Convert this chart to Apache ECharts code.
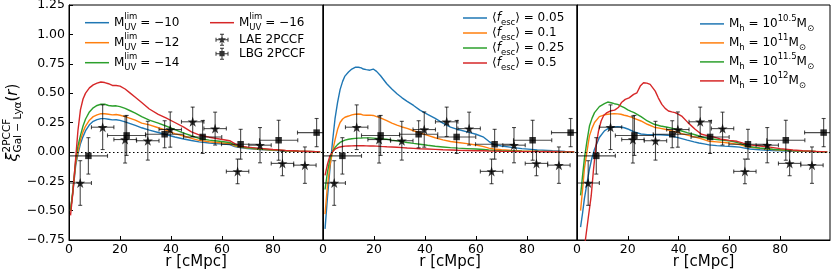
<!DOCTYPE html>
<html><head><meta charset="utf-8">
<script src="https://cdn.jsdelivr.net/npm/echarts@6/dist/echarts.min.js"></script>
<style>html,body{margin:0;padding:0;background:#fff}#c{width:831px;height:276px}</style>
</head><body><div id="c"></div><script>
// ---------------- data ----------------
const r1 = [0.6, 1.5, 2.6, 3.5, 4.5, 5.5, 6.5, 8, 9.5, 11, 12.5, 14, 15.5, 17, 18.5, 20, 22, 24, 26, 28.5, 31.5, 35, 38, 41.5, 45, 48, 51, 55, 59, 63, 65, 67, 70, 75, 80, 85, 90, 95, 98.5];
const muv10 = [-0.5,-0.35,-0.12,-0.02,0.07,0.13,0.18,0.23,0.26,0.275,0.283,0.283,0.278,0.272,0.273,0.268,0.255,0.24,0.225,0.205,0.185,0.165,0.148,0.127,0.11,0.097,0.085,0.076,0.069,0.062,0.046,0.036,0.029,0.02,0.013,0.008,0.004,0.002,0];
const muv12 = [-0.5,-0.34,-0.1,0,0.1,0.17,0.22,0.27,0.3,0.315,0.325,0.325,0.32,0.315,0.318,0.312,0.3,0.285,0.27,0.245,0.23,0.205,0.185,0.155,0.135,0.115,0.098,0.086,0.078,0.07,0.052,0.04,0.032,0.022,0.015,0.009,0.005,0.002,0];
const muv14 = [-0.5,-0.33,-0.08,0.05,0.14,0.22,0.28,0.34,0.375,0.395,0.405,0.405,0.395,0.39,0.392,0.385,0.37,0.35,0.33,0.3,0.27,0.245,0.22,0.19,0.16,0.137,0.115,0.1,0.09,0.08,0.06,0.045,0.035,0.025,0.017,0.01,0.006,0.003,0];
const muv16 = [-0.54,-0.35,-0.06,0.18,0.36,0.45,0.5,0.545,0.57,0.585,0.595,0.59,0.58,0.565,0.565,0.56,0.535,0.5,0.465,0.42,0.365,0.32,0.29,0.25,0.21,0.17,0.145,0.125,0.11,0.095,0.07,0.05,0.04,0.03,0.02,0.012,0.007,0.003,0];

const r2 = [0.8, 1.7, 2.7, 3.7, 4.7, 5.7, 6.7, 7.7, 8.6, 10, 11.3, 12.6, 13.9, 15, 15.8, 17, 18.4, 19.7, 21, 22.5, 25, 27, 29, 31, 33, 35.5, 38, 41, 44, 47, 50, 53, 56.5, 60, 63, 65, 67, 70, 74, 78, 84, 90, 95, 98.5];
const fesc005 = [-0.655,-0.4,-0.15,0.08,0.28,0.42,0.53,0.6,0.645,0.68,0.705,0.72,0.72,0.715,0.705,0.7,0.695,0.705,0.685,0.65,0.58,0.535,0.495,0.46,0.43,0.395,0.355,0.32,0.285,0.245,0.21,0.19,0.17,0.15,0.125,0.09,0.062,0.05,0.038,0.028,0.017,0.009,0.004,0.001];
const fesc01 = [-0.53,-0.3,-0.12,0,0.1,0.19,0.25,0.28,0.295,0.305,0.315,0.32,0.322,0.32,0.313,0.312,0.313,0.31,0.3,0.29,0.265,0.245,0.228,0.212,0.2,0.18,0.162,0.14,0.12,0.102,0.088,0.08,0.07,0.058,0.045,0.032,0.024,0.018,0.012,0.008,0.005,0.003,0.001,0];
const fesc025 = [-0.32,-0.18,-0.06,0,0.037,0.062,0.08,0.092,0.1,0.107,0.112,0.115,0.117,0.118,0.119,0.119,0.119,0.117,0.115,0.112,0.107,0.1,0.094,0.087,0.08,0.072,0.065,0.056,0.048,0.042,0.036,0.032,0.028,0.024,0.02,0.016,0.013,0.01,0.008,0.006,0.004,0.002,0.001,0];
const fesc05 = [-0.2,-0.11,-0.034,0,0.023,0.035,0.042,0.046,0.049,0.05,0.051,0.052,0.052,0.052,0.052,0.051,0.05,0.05,0.049,0.047,0.044,0.042,0.039,0.036,0.033,0.03,0.027,0.024,0.021,0.018,0.016,0.014,0.012,0.01,0.009,0.007,0.006,0.005,0.004,0.003,0.002,0.001,0,0];

const r3 = [1.4, 2.2, 2.9, 3.9, 4.9, 5.9, 6.9, 8.8, 10.8, 12.1, 13.4, 14.7, 16, 17.3, 18.6, 20, 21.3, 22.5, 25.2, 27.7, 30.4, 32.9, 35.6, 38.1, 40.9, 43.4, 46.1, 48, 50, 52, 55, 58, 61, 64, 66, 68, 72, 77, 83, 89, 94, 98.5];
const mh105 = [-0.64,-0.52,-0.4,-0.27,-0.147,-0.05,0.023,0.122,0.179,0.197,0.206,0.212,0.215,0.212,0.205,0.195,0.182,0.17,0.152,0.147,0.146,0.146,0.142,0.13,0.115,0.1,0.085,0.076,0.068,0.06,0.053,0.049,0.046,0.04,0.032,0.025,0.018,0.012,0.008,0.004,0.002,0];
const mh11 = [-0.5,-0.32,-0.147,0,0.136,0.2,0.25,0.3,0.315,0.32,0.323,0.325,0.323,0.32,0.312,0.305,0.295,0.285,0.263,0.235,0.21,0.2,0.188,0.175,0.158,0.143,0.128,0.117,0.105,0.09,0.085,0.08,0.072,0.062,0.05,0.04,0.03,0.02,0.012,0.006,0.003,0];
const mh115 = [-0.37,-0.2,-0.06,0.09,0.22,0.285,0.334,0.385,0.41,0.424,0.418,0.41,0.404,0.39,0.376,0.358,0.345,0.334,0.3,0.263,0.235,0.22,0.21,0.198,0.18,0.164,0.148,0.135,0.122,0.113,0.105,0.098,0.09,0.075,0.058,0.045,0.033,0.022,0.013,0.007,0.003,0];
const r3red = [1.5, 2.5, 3.3, 4.5, 5.6, 6.5, 7.5, 8.5, 9.5, 10.5, 11.8, 13.4, 14.8, 16.4, 17.5, 19, 20.5, 22.3, 23.6, 24.9, 26.2, 27.5, 28.8, 30.8, 32, 33.4, 34.7, 36, 37.3, 38.6, 40, 41.2, 43.7, 46.5, 49, 51.7, 54, 56.3, 60, 63, 65.4, 68, 72, 75.9, 80, 85, 88.9, 94, 98.5];
const mh12 = [-1.3,-0.95,-0.75,-0.55,-0.373,-0.15,0.054,0.18,0.263,0.31,0.334,0.35,0.355,0.38,0.42,0.447,0.46,0.489,0.503,0.56,0.588,0.585,0.574,0.517,0.46,0.404,0.37,0.348,0.34,0.334,0.32,0.305,0.249,0.192,0.15,0.136,0.125,0.11,0.098,0.09,0.075,0.06,0.05,0.04,0.028,0.016,0.009,0.004,0];

// observations (same in every panel)
const laeR    = [4.4, 13.2, 22.0, 30.9, 39.7, 48.5, 57.3, 66.1, 74.9, 83.7, 92.5];
const laeXi   = [-0.265, 0.21, 0.105, 0.095, 0.19, 0.256, 0.198, -0.166, 0.057, -0.098, -0.113];
const laeXiErr= [0.19, 0.19, 0.2, 0.165, 0.15, 0.125, 0.14, 0.105, 0.15, 0.105, 0.155];
const laeRErr = [4.4, 4.4, 4.4, 4.4, 4.4, 4.4, 4.4, 4.4, 4.4, 4.4, 4.4];
const lbgR    = [7.6, 22.6, 37.5, 52.4, 67.3, 82.2, 97.1];
const lbgXi   = [-0.034, 0.14, 0.15, 0.127, 0.065, 0.099, 0.164];
const lbgXiErr= [0.155, 0.17, 0.115, 0.14, 0.127, 0.17, 0.12];
const lbgRErr = [7.5, 7.5, 7.5, 7.5, 7.5, 7.5, 7.5];

const xTicks = [0, 20, 40, 60, 80];
const yTicks = [-0.75, -0.5, -0.25, 0, 0.25, 0.5, 0.75, 1.0, 1.25];

const names1 = ['muv10','muv12','muv14','muv16'];
const names2 = ['fesc005','fesc01','fesc025','fesc05'];
const names3 = ['mh105','mh11','mh115','mh12'];
const LABEL = {
  muv10: '{t|M}{s0|lim}{sb|UV}{t| = −10}',
  muv12: '{t|M}{s0|lim}{sb|UV}{t| = −12}',
  muv14: '{t|M}{s0|lim}{sb|UV}{t| = −14}',
  muv16: '{t|M}{s0|lim}{sb|UV}{t| = −16}',
  fesc005: '{t2|⟨}{it2|f}{sb2|esc}{t2|⟩ = 0.05}',
  fesc01: '{t2|⟨}{it2|f}{sb2|esc}{t2|⟩ = 0.1}',
  fesc025: '{t2|⟨}{it2|f}{sb2|esc}{t2|⟩ = 0.25}',
  fesc05: '{t2|⟨}{it2|f}{sb2|esc}{t2|⟩ = 0.5}',
  mh105: '{t3|M}{sb3|h}{t3| = 10}{sp3|10.5}{t3|M}{sb3|⊙}',
  mh11: '{t3|M}{sb3|h}{t3| = 10}{sp3|11}{t3|M}{sb3|⊙}',
  mh115: '{t3|M}{sb3|h}{t3| = 10}{sp3|11.5}{t3|M}{sb3|⊙}',
  mh12: '{t3|M}{sb3|h}{t3| = 10}{sp3|12}{t3|M}{sb3|⊙}',
  'LAE 2PCCF': '{p|LAE 2PCCF}',
  'LBG 2PCCF': '{p|LBG 2PCCF}'
};

// ---------------- styling / helpers ----------------
const FONT = 'DejaVu Sans';
const COLORS = ['#1f77b4', '#ff7f0e', '#2ca02c', '#d62728'];
const XMAX = 99.6;
const GRIDS = [{left: 69, width: 254}, {left: 323, width: 254}, {left: 577, width: 253}];

function starPath(cx, cy, R, r) {
  let d = '';
  for (let k = 0; k < 10; k++) {
    const a = -Math.PI / 2 + k * Math.PI / 5, rad = k % 2 ? r : R;
    d += (k ? 'L' : 'M') + (cx + rad * Math.cos(a)).toFixed(2) + ' ' + (cy + rad * Math.sin(a)).toFixed(2);
  }
  return d + 'Z';
}
function rectP(x, y, w, h) { return 'M' + x + ' ' + y + 'h' + w + 'v' + h + 'h' + (-w) + 'Z'; }
const speck = rectP(0, 0, 0.01, 0.01) + rectP(23.99, 13.99, 0.01, 0.01);
const crossP = rectP(5.5, 6.5, 13, 1) + rectP(5.5, 5, 1, 4) + rectP(17.5, 5, 1, 4) +
               rectP(11.5, 1, 1, 12) + rectP(10, 1, 4, 1) + rectP(10, 12, 4, 1);
const iconLAE = 'path://' + speck + crossP + starPath(12, 7, 4.3, 1.7);
const iconLBG = 'path://' + speck + crossP + rectP(9.4, 4.4, 5.2, 5.2);
const iconLine = 'path://M0 0h24v1.5h-24Z';
const starSymbol = 'path://' + starPath(0, 0, 10, 3.9);

function pairs(xs, ys) { return xs.map((x, i) => [x, ys[i]]); }
function errData(xs, ys, exs, eys) { return xs.map((x, i) => [x, ys[i], exs[i], eys[i]]); }
function fmtY(v) { return (v < 0 ? '−' : '') + Math.abs(v).toFixed(2); }

function errItem(params, api) {
  const x = api.value(0), y = api.value(1), ex = api.value(2), ey = api.value(3);
  const p = api.coord([x, y]);
  const l = api.coord([x - ex, y]), r = api.coord([x + ex, y]);
  const t = api.coord([x, y + ey]), b = api.coord([x, y - ey]);
  const cs = 2;
  const st = {stroke: 'rgba(0,0,0,0.7)', lineWidth: 1.1, fill: null};
  const ln = (x1, y1, x2, y2) => ({type: 'line', shape: {x1, y1, x2, y2}, style: st});
  return {type: 'group', children: [
    ln(l[0], p[1], r[0], p[1]), ln(l[0], p[1] - cs, l[0], p[1] + cs), ln(r[0], p[1] - cs, r[0], p[1] + cs),
    ln(p[0], t[1], p[0], b[1]), ln(p[0] - cs, t[1], p[0] + cs, t[1]), ln(p[0] - cs, b[1], p[0] + cs, b[1])
  ]};
}

const panels = [
  {names: names1, xs: [r1, r1, r1, r1], ys: [muv10, muv12, muv14, muv16]},
  {names: names2, xs: [r2, r2, r2, r2], ys: [fesc005, fesc01, fesc025, fesc05]},
  {names: names3, xs: [r3, r3, r3, r3red], ys: [mh105, mh11, mh115, mh12]}
];

const yName = {fontFamily: FONT, color: '#000', align: 'left'};
const grid = [], xAxis = [], yAxis = [], series = [];
panels.forEach((pn, i) => {
  grid.push({left: GRIDS[i].left, width: GRIDS[i].width, top: 5, height: 235, show: true,
             borderColor: '#000', borderWidth: 1, backgroundColor: 'transparent', containLabel: false, outerBoundsMode: 'none'});
  xAxis.push({gridIndex: i, type: 'value', min: xTicks[0], max: XMAX, interval: xTicks[1] - xTicks[0],
    axisLine: {show: true, onZero: false, lineStyle: {color: '#000', width: 1}},
    axisTick: {show: true, inside: true, length: 4, lineStyle: {color: '#000'}},
    axisLabel: {fontFamily: FONT, fontSize: 12.5, color: '#000', margin: 3, showMaxLabel: false,
                formatter: v => xTicks.includes(v) ? String(v) : ''},
    splitLine: {show: false},
    name: 'r [cMpc]', nameLocation: 'middle', nameGap: 15, nameMoveOverlap: false,
    nameTextStyle: {fontFamily: FONT, fontSize: 15, color: '#000', verticalAlign: 'top'}});
  const y = {gridIndex: i, type: 'value', min: yTicks[0], max: yTicks[yTicks.length - 1], interval: yTicks[1] - yTicks[0],
    axisLine: {show: true, onZero: false, lineStyle: {color: '#000', width: 1}},
    axisTick: {show: i === 0, inside: true, length: 4, lineStyle: {color: '#000'}},
    axisLabel: {show: i === 0, fontFamily: FONT, fontSize: 12.5, color: '#000', margin: 4, formatter: fmtY},
    splitLine: {show: false}};
  if (i === 0) {
    Object.assign(y, {
      name: '{xi|ξ}{s1|2PCCF}{s2|Gal − Lyα}{r|(}{ri|r}{r|)}',
      nameLocation: 'middle', nameRotate: 90, nameGap: 45, nameMoveOverlap: false,
      nameTextStyle: {fontFamily: FONT, color: '#000', rich: {
        xi: Object.assign({fontSize: 16, fontStyle: 'italic', lineHeight: 22}, yName),
        s1: Object.assign({fontSize: 10.5, lineHeight: 13, verticalAlign: 'top', width: 0}, yName),
        s2: Object.assign({fontSize: 10.5, lineHeight: 13, verticalAlign: 'bottom'}, yName),
        r: Object.assign({fontSize: 15, lineHeight: 22}, yName),
        ri: Object.assign({fontSize: 15, fontStyle: 'italic', lineHeight: 22}, yName)
      }}
    });
  }
  yAxis.push(y);

  pn.names.forEach((nm, k) => {
    const s = {name: nm, type: 'line', xAxisIndex: i, yAxisIndex: i, data: pairs(pn.xs[k], pn.ys[k]),
      symbol: 'none', showSymbol: false, clip: true, z: 2,
      lineStyle: {color: COLORS[k], width: 1.4}, itemStyle: {color: COLORS[k]},
      emphasis: {disabled: true}, animation: false};
    if (k === 0) {
      s.markLine = {silent: true, symbol: ['none', 'none'], label: {show: false}, animation: false,
        lineStyle: {color: '#000', type: [1.5, 2.5], width: 1.2}, emphasis: {disabled: true}, data: [{yAxis: 0}]};
    }
    series.push(s);
  });
  series.push({name: 'LAE err', type: 'custom', xAxisIndex: i, yAxisIndex: i, clip: true, z: 4,
    renderItem: errItem, data: errData(laeR, laeXi, laeRErr, laeXiErr), encode: {x: 0, y: 1}, animation: false, silent: true});
  series.push({name: 'LBG err', type: 'custom', xAxisIndex: i, yAxisIndex: i, clip: true, z: 4,
    renderItem: errItem, data: errData(lbgR, lbgXi, lbgRErr, lbgXiErr), encode: {x: 0, y: 1}, animation: false, silent: true});
  series.push({name: 'LAE 2PCCF', type: 'scatter', xAxisIndex: i, yAxisIndex: i, z: 5,
    symbol: starSymbol, symbolSize: 10, itemStyle: {color: '#000'}, data: pairs(laeR, laeXi), animation: false, silent: true});
  series.push({name: 'LBG 2PCCF', type: 'scatter', xAxisIndex: i, yAxisIndex: i, z: 5,
    symbol: 'rect', symbolSize: 6.5, itemStyle: {color: '#000'}, data: pairs(lbgR, lbgXi), animation: false, silent: true});
});

const RICH = {
  t: {fontFamily: FONT, fontSize: 12, lineHeight: 20, color: '#000'},
  s0: {fontFamily: FONT, fontSize: 8.5, lineHeight: 13.6, verticalAlign: 'top', width: 0, color: '#000'},
  sb: {fontFamily: FONT, fontSize: 8.5, lineHeight: 13.6, verticalAlign: 'bottom', color: '#000'},
  p: {fontFamily: FONT, fontSize: 12, lineHeight: 17, color: '#000'},
  t2: {fontFamily: FONT, fontSize: 12, lineHeight: 18, color: '#000'},
  it2: {fontFamily: FONT, fontSize: 12, lineHeight: 18, fontStyle: 'italic', color: '#000'},
  sb2: {fontFamily: FONT, fontSize: 8.5, lineHeight: 12, verticalAlign: 'bottom', color: '#000'},
  t3: {fontFamily: FONT, fontSize: 12, lineHeight: 19, color: '#000'},
  sb3: {fontFamily: FONT, fontSize: 8.5, lineHeight: 13, verticalAlign: 'bottom', color: '#000'},
  sp3: {fontFamily: FONT, fontSize: 8.5, lineHeight: 13, verticalAlign: 'top', color: '#000'}
};
const legBase = {orient: 'vertical', itemWidth: 24, itemHeight: 14, itemTextGap: 9, padding: 0, itemGap: 0,
  selectedMode: false, textStyle: {fontFamily: FONT, fontSize: 12, color: '#000', rich: RICH},
  formatter: n => LABEL[n] || n};
const lineItem = n => ({name: n, icon: iconLine});

const option = {
  animation: false,
  backgroundColor: '#fff',
  grid, xAxis, yAxis, series,
  legend: [
    Object.assign({}, legBase, {left: 85, top: 12.7, data: [names1[0], names1[1], names1[2]].map(lineItem)}),
    Object.assign({}, legBase, {left: 210, top: 12.7, data: [lineItem(names1[3]), {name: 'LAE 2PCCF', icon: iconLAE}, {name: 'LBG 2PCCF', icon: iconLBG}]}),
    Object.assign({}, legBase, {left: 463, top: 12, data: names2.map(lineItem)}),
    Object.assign({}, legBase, {left: 700, top: 14.4, data: names3.map(lineItem)})
  ]
};
const chart = echarts.init(document.getElementById('c'), null, {renderer: 'canvas'});
chart.setOption(option);
</script></body></html>
